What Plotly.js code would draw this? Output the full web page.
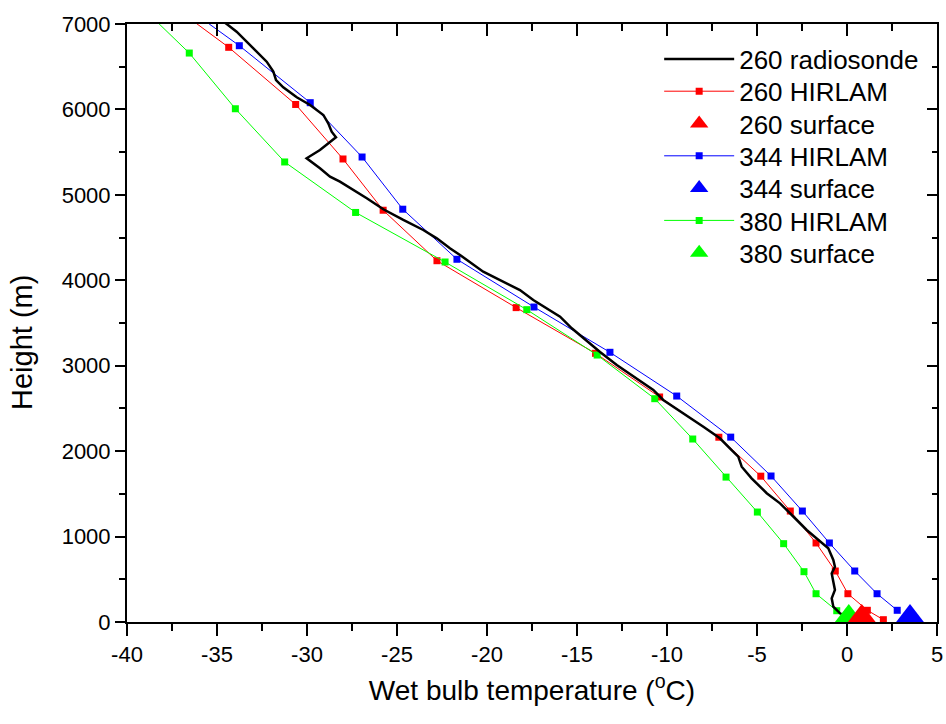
<!DOCTYPE html>
<html>
<head>
<meta charset="utf-8">
<script src="https://cdn.plot.ly/plotly-3.0.1.min.js"></script>
<style>html,body{margin:0;padding:0;background:#fff;}#chart{width:946px;height:724px;}</style>
</head>
<body>
<div id="chart"></div>
<script>
// ---- data ----
const sondeTemp = [0.82, 0.17, -0.39, -0.76, -0.85, -0.67, -0.76, -0.85, -0.67, -0.76, -1.04, -1.78, -2.24, -2.79, -3.72, -4.46, -5.30, -5.85, -6.04, -6.41, -7.06, -7.98, -9.09, -10.21, -10.76, -11.68, -12.79, -13.72, -14.83, -15.29, -15.94, -16.68, -17.43, -18.17, -19.28, -20.21, -21.50, -22.06, -22.79, -23.54, -24.65, -25.76, -26.68, -27.43, -28.17, -28.72, -29.28, -30.02, -29.28, -28.39, -28.63, -28.82, -29.09, -29.83, -30.57, -31.32, -31.72, -31.87, -32.24, -32.98, -33.91, -34.46, -35.0];
const sondeHeight = [0, 43, 102, 179, 277, 375, 472, 570, 647, 726, 863, 998, 1077, 1194, 1389, 1507, 1682, 1818, 1935, 2013, 2150, 2286, 2443, 2599, 2716, 2853, 3008, 3160, 3360, 3438, 3574, 3672, 3769, 3886, 4003, 4101, 4296, 4374, 4491, 4589, 4706, 4831, 4960, 5057, 5154, 5213, 5311, 5428, 5525, 5674, 5739, 5837, 5935, 6052, 6142, 6259, 6344, 6442, 6559, 6716, 6910, 7000, 7080];

const h260Temp = [2.02, 1.13, 0.05, -0.65, -1.72, -3.15, -4.79, -7.12, -10.41, -13.97, -18.38, -22.78, -25.77, -28.0, -30.63, -34.35, -38.8];
const h260Height = [27, 137, 331, 597, 925, 1299, 1707, 2163, 2634, 3145, 3680, 4229, 4820, 5420, 6058, 6727, 7420];

const h344Temp = [2.79, 1.67, 0.43, -0.98, -2.48, -4.22, -6.46, -9.46, -13.17, -17.39, -21.67, -24.68, -26.94, -29.82, -33.76, -38.19];
const h344Height = [137, 331, 597, 925, 1299, 1709, 2164, 2645, 3157, 3687, 4246, 4832, 5443, 6079, 6746, 7420];

const h380Temp = [-0.57, -1.72, -2.39, -3.52, -4.98, -6.72, -8.57, -10.68, -13.88, -17.79, -22.33, -27.3, -31.24, -33.98, -36.54, -39.83];
const h380Height = [132, 331, 589, 917, 1287, 1696, 2142, 2614, 3125, 3656, 4214, 4794, 5385, 6008, 6660, 7330];

const surf260Temp = [0.82], surf260Height = [70];
const surf344Temp = [3.5],  surf344Height = [70];
const surf380Temp = [0.1],  surf380Height = [70];

const seriesNames = ['260 radiosonde', '260 HIRLAM', '260 surface', '344 HIRLAM', '344 surface', '380 HIRLAM', '380 surface'];

const xTickVals = [-40, -35, -30, -25, -20, -15, -10, -5, 0, 5];
const xTickText = ["-40", "-35", "-30", "-25", "-20", "-15", "-10", "-5", "0", "5"];
const yTickVals = [0, 1000, 2000, 3000, 4000, 5000, 6000, 7000];
const yTickText = ["0", "1000", "2000", "3000", "4000", "5000", "6000", "7000"];

const RED = '#ff0000', BLUE = '#0000ff', GREEN = '#00ff00';
const FONT = 'Liberation Sans, Arial, sans-serif';

const sq = c => ({symbol: 'square', size: 7, color: c});
const tri = c => ({symbol: 'triangle-up', size: 24, color: c});

const T = {
  sonde: {x: sondeTemp, y: sondeHeight, mode: 'lines', name: seriesNames[0], legend: 'legend', line: {color: '#000', width: 2.5}},
  h260: {x: h260Temp, y: h260Height, mode: 'lines+markers', name: seriesNames[1], legend: 'legend2', line: {color: RED, width: 1}, marker: sq(RED)},
  s260: {x: surf260Temp, y: surf260Height, mode: 'markers', name: seriesNames[2], legend: 'legend3', marker: tri(RED), cliponaxis: false},
  h344: {x: h344Temp, y: h344Height, mode: 'lines+markers', name: seriesNames[3], legend: 'legend4', line: {color: BLUE, width: 1}, marker: sq(BLUE)},
  s344: {x: surf344Temp, y: surf344Height, mode: 'markers', name: seriesNames[4], legend: 'legend5', marker: tri(BLUE), cliponaxis: false},
  h380: {x: h380Temp, y: h380Height, mode: 'lines+markers', name: seriesNames[5], legend: 'legend6', line: {color: GREEN, width: 1}, marker: sq(GREEN)},
  s380: {x: surf380Temp, y: surf380Height, mode: 'markers', name: seriesNames[6], legend: 'legend7', marker: tri(GREEN), cliponaxis: false},
  dummy: {x: [null], y: [null], xaxis: 'x2', yaxis: 'y2', showlegend: false, hoverinfo: 'skip', mode: 'markers'}
};
const data = [T.h260, T.h344, T.h380, T.sonde, T.s380, T.s260, T.s344, T.dummy];

const layout = {
  width: 946, height: 724,
  margin: {l: 127, r: 9, t: 24, b: 102},
  paper_bgcolor: '#fff', plot_bgcolor: '#fff',
  font: {family: FONT, color: '#000'},
  showlegend: true,
  xaxis: {
    range: [-40, 5], tickmode: 'array', tickvals: xTickVals, ticktext: xTickText,
    ticks: 'outside', ticklen: 12, tickwidth: 2, tickcolor: '#000',
    minor: {tickmode: 'linear', tick0: -40, dtick: 2.5, ticks: 'outside', ticklen: 7, tickwidth: 2, tickcolor: '#000'},
    showline: true, linewidth: 2, linecolor: '#000', mirror: true,
    showgrid: false, zeroline: false,
    tickfont: {family: FONT, size: 22, color: '#000'},
    title: {text: 'Wet bulb temperature (<sup>o</sup>C)', font: {family: FONT, size: 28, color: '#000'}, standoff: 14},
    automargin: false
  },
  yaxis: {
    range: [0, 7000], tickmode: 'array', tickvals: yTickVals, ticktext: yTickText,
    ticks: 'outside', ticklen: 10, tickwidth: 2, tickcolor: '#000',
    minor: {tickmode: 'linear', tick0: 0, dtick: 500, ticks: 'outside', ticklen: 6, tickwidth: 2, tickcolor: '#000'},
    showline: true, linewidth: 2, linecolor: '#000', mirror: true,
    showgrid: false, zeroline: false,
    tickfont: {family: FONT, size: 22, color: '#000'},
    automargin: false
  },
  xaxis2: {
    overlaying: 'x', side: 'top', anchor: 'y2', range: [-40, 5],
    tickmode: 'array', tickvals: xTickVals, showticklabels: false,
    ticks: 'inside', ticklen: 12, tickwidth: 2, tickcolor: '#000',
    minor: {tickmode: 'linear', tick0: -40, dtick: 2.5, ticks: 'inside', ticklen: 7, tickwidth: 2, tickcolor: '#000'},
    showline: false, showgrid: false, zeroline: false
  },
  yaxis2: {
    overlaying: 'y', side: 'right', anchor: 'x2', range: [0, 7000],
    tickmode: 'array', tickvals: yTickVals, showticklabels: false,
    ticks: 'inside', ticklen: 10, tickwidth: 2, tickcolor: '#000',
    minor: {tickmode: 'linear', tick0: 0, dtick: 500, ticks: 'inside', ticklen: 5, tickwidth: 2, tickcolor: '#000'},
    showline: false, showgrid: false, zeroline: false
  },
  annotations: [{
    text: 'Height (m)', textangle: -90, xref: 'paper', yref: 'paper',
    x: (22 - 127) / 810, y: 1 - (343 - 24) / 598, xanchor: 'center', yanchor: 'middle',
    showarrow: false, font: {family: FONT, size: 29, color: '#000'}
  }]
};

// one legend per entry so the row spacing matches the reference
const rowCenters = [59, 91.3, 123.6, 155.9, 188.2, 220.5, 252.8];
['legend', 'legend2', 'legend3', 'legend4', 'legend5', 'legend6', 'legend7'].forEach((k, i) => {
  layout[k] = {
    x: 0.657, y: 1 - (rowCenters[i] - 24) / 598, xanchor: 'left', yanchor: 'middle',
    font: {family: FONT, size: 26, color: '#000'},
    bgcolor: 'rgba(0,0,0,0)', borderwidth: 0, itemwidth: 70
  };
});

Plotly.newPlot('chart', data, layout, {staticPlot: true, displayModeBar: false});
</script>
</body>
</html>
